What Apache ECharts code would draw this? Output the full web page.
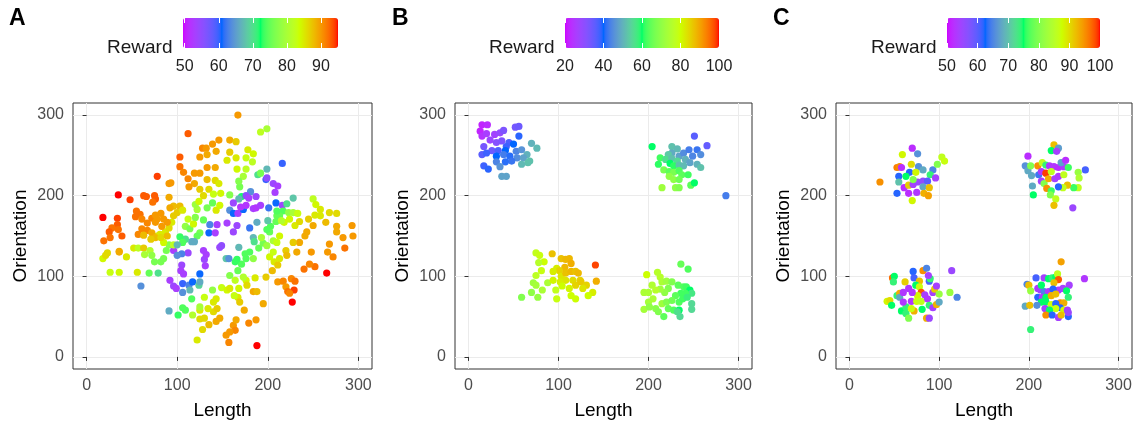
<!DOCTYPE html>
<html><head><meta charset="utf-8">
<script src="https://cdn.jsdelivr.net/npm/echarts@6/dist/echarts.min.js"></script>
<style>html,body{margin:0;padding:0;background:#fff}#c{width:1139px;height:425px}</style>
</head><body><div id="c"></div>
<script>
// ---------- DATA ----------
const panelLetters = ['A', 'B', 'C'];
const axisTicks = [0, 100, 200, 300];
const minorTicks = [50, 150, 250];
const xName = 'Length';
const yName = 'Orientation';
const legendTitle = 'Reward';
const legendTicksA = [50, 60, 70, 80, 90];
const legendTicksB = [20, 40, 60, 80, 100];
const legendTicksC = [50, 60, 70, 80, 90, 100];
const rewardRangeA = [49.5, 95];
const rewardRangeB = [20, 100];
const rewardRangeC = [50, 100];

// [Length, Orientation, Reward]
const pointsA = [
[167,300,90],[199,283,80],[192,279,82],[112,277,93],[158,269,89],[165,267,87],[146,269,90],[139,264,90],[128,259,91],[132,259,90],
[143,255,89],[158,254,87],[178,257,85],[184,252,84],[125,248,90],[133,251,89],[103,248,93],[165,247,85],[176,247,83],[155,244,85],
[183,242,82],[133,235,90],[142,235,89],[103,236,92],[107,229,91],[166,233,84],[176,233,82],[199,233,67],[216,240,60],[173,224,80],
[189,226,70],[192,228,76],[78,224,94],[119,228,90],[125,228,90],[112,221,91],[133,220,88],[142,219,86],[146,215,85],[91,215,90],
[119,215,89],[113,211,90],[125,208,87],[135,208,86],[169,211,76],[168,218,77],[148,203,84],[129,200,86],[140,202,83],[158,201,77],
[171,199,72],[181,205,64],[176,200,55],[187,199,54],[168,196,67],[198,220,60],[199,222,55],[206,215,54],[211,212,53],[208,204,53],
[209,191,61],[201,185,62],[216,188,54],[221,190,70],[228,197,68],[217,181,74],[223,179,78],[213,175,75],[210,175,75],[228,179,80],
[233,178,83],[224,171,84],[218,167,84],[230,163,85],[235,168,86],[250,196,82],[253,189,84],[258,183,85],[252,176,85],[258,175,85],
[268,179,86],[276,178,86],[245,171,87],[264,167,88],[276,162,89],[293,163,90],[294,150,90],[276,155,89],[250,163,89],[243,155,89],
[241,150,89],[235,142,89],[228,142,87],[232,130,89],[248,130,90],[268,140,90],[266,130,90],[272,124,91],[285,135,92],[283,148,90],
[265,104,95],[252,112,92],[240,109,92],[246,115,91],[220,132,87],[221,126,88],[213,122,85],[207,118,85],[211,114,87],[205,107,88],
[198,99,87],[211,93,90],[217,94,91],[226,97,91],[230,94,92],[220,87,90],[222,81,92],[229,83,94],[224,79,91],[227,68,95],
[195,66,89],[184,81,89],[179,42,91],[187,46,90],[188,14,95],[174,58,89],[162,39,90],[165,46,89],[164,33,91],[158,31,90],
[154,27,90],[157,18,91],[147,48,89],[143,44,89],[135,40,88],[128,34,86],[122,21,85],[125,47,86],[130,48,86],[140,56,86],
[144,60,87],[134,60,85],[125,58,85],[140,68,85],[143,72,85],[130,74,83],[139,83,78],[149,86,83],[155,83,84],[158,85,85],
[167,74,85],[169,68,87],[163,76,83],[168,85,84],[176,95,84],[177,89,86],[186,98,85],[188,81,88],[173,99,81],[164,95,82],
[158,101,77],[167,107,75],[171,115,74],[176,122,74],[180,130,74],[175,128,74],[184,122,78],[190,135,75],[195,141,76],[193,148,80],
[199,138,79],[202,124,84],[206,144,80],[206,130,83],[210,142,83],[213,150,84],[203,162,74],[202,155,75],[200,169,68],[188,167,66],
[180,160,62],[184,148,67],[185,143,70],[168,136,67],[166,121,73],[164,118,73],[154,122,68],[147,136,54],[149,138,55],[157,122,64],
[144,164,53],[155,166,53],[166,163,54],[162,155,54],[136,164,63],[135,154,61],[142,154,53],[158,182,64],[162,178,61],[167,178,53],
[173,183,61],[170,186,52],[176,188,52],[179,197,53],[184,184,53],[187,185,52],[192,188,53],[162,191,54],[125,103,61],[131,113,53],
[130,121,54],[132,127,53],[129,132,53],[112,129,54],[105,128,63],[105,114,54],[96,132,53],[104,107,53],[107,103,53],[92,95,53],
[96,88,54],[99,85,53],[106,91,60],[113,89,63],[117,93,61],[106,80,64],[114,83,67],[124,89,69],[125,93,66],[91,57,66],
[101,52,73],[106,61,74],[109,58,74],[116,72,74],[117,52,81],[125,62,80],[60,88,64],[79,104,70],[69,104,75],[36,105,84],
[56,105,85],[26,105,83],[18,122,84],[21,126,86],[23,129,86],[44,124,85],[36,130,89],[36,131,89],[52,135,85],[57,135,82],
[63,135,87],[64,127,80],[70,132,81],[72,126,78],[75,118,76],[82,118,76],[85,122,76],[88,132,76],[91,139,77],[96,139,82],
[85,142,84],[78,150,85],[81,152,85],[87,155,85],[91,160,86],[94,167,85],[96,175,87],[100,179,87],[103,187,88],[96,187,88],
[92,185,89],[91,198,89],[93,216,90],[106,182,85],[112,171,83],[109,162,78],[114,159,76],[118,165,84],[120,173,77],[122,183,80],
[120,189,79],[124,193,84],[125,154,76],[122,150,75],[119,143,66],[116,143,66],[109,146,70],[103,149,73],[106,142,74],[100,139,67],
[100,126,64],[129,170,75],[133,185,76],[139,191,75],[143,182,85],[147,188,84],[18,173,95],[34,172,94],[35,201,95],[48,195,94],
[63,200,93],[66,199,93],[75,200,93],[76,196,93],[73,192,92],[54,174,92],[59,177,92],[55,181,92],[61,171,91],[72,172,91],
[76,176,90],[82,178,90],[78,171,90],[85,171,90],[89,167,90],[83,162,90],[76,167,90],[67,166,91],[61,159,91],[67,157,91],
[57,152,91],[63,151,88],[72,154,89],[76,148,88],[71,146,87],[82,148,86],[89,150,88],[34,164,93],[28,160,92],[25,155,93],
[35,158,92],[39,150,93],[26,148,92],[19,144,92],[199,158,74],[209,168,75],[215,169,81],[210,181,74]
];

const pointsB = [
[15,288,22],[21,288,23],[13,280,22],[15,274,24],[20,277,26],[29,276,27],[35,278,29],[39,281,32],[52,285,33],[56,286,34],
[56,274,39],[24,269,28],[31,266,31],[37,268,32],[45,266,37],[50,264,40],[42,261,38],[17,261,33],[26,256,34],[33,256,37],
[41,256,40],[53,255,44],[59,257,46],[65,251,50],[70,265,50],[76,259,51],[15,251,36],[20,253,38],[31,249,40],[39,251,43],
[46,249,41],[54,247,45],[61,247,48],[68,243,52],[66,241,52],[59,239,51],[48,243,42],[41,242,41],[31,242,44],[35,236,46],
[17,237,38],[22,233,39],[37,224,48],[42,224,48],
[204,261,60],[213,247,62],[211,239,61],[217,232,67],[215,210,72],[226,261,52],[232,258,51],[226,253,49],[222,251,53],[219,245,56],
[226,246,52],[234,249,48],[239,253,45],[245,257,43],[251,274,36],[265,262,35],[254,257,42],[258,251,45],[249,249,44],[241,245,50],
[232,243,55],[224,240,60],[228,237,61],[234,238,52],[239,237,51],[246,241,48],[254,239,50],[258,235,52],[223,230,64],[228,229,67],
[234,231,63],[237,226,64],[223,224,70],[228,220,70],[234,220,66],[244,226,62],[230,210,70],[234,210,68],[247,213,64],[251,216,60],
[286,200,43],
[75,129,78],[79,126,79],[84,118,80],[78,117,76],[81,107,79],[75,101,77],[72,92,72],[75,89,73],[70,80,70],[77,74,71],
[59,74,68],[82,83,74],[88,92,74],[93,128,87],[98,110,82],[103,122,87],[108,121,88],[112,122,88],[114,116,89],[107,111,88],
[101,107,85],[94,106,82],[103,100,83],[108,104,87],[114,106,88],[119,106,87],[122,104,88],[124,95,85],[116,95,84],[108,95,83],
[102,93,82],[94,95,81],[97,83,78],[104,88,80],[112,85,81],[119,89,85],[125,93,86],[131,89,85],[127,85,83],[138,80,82],
[133,76,80],[114,76,80],[119,72,80],[98,72,79],[141,114,98],[142,94,89],
[198,102,80],[210,105,76],[213,99,76],[236,115,65],[244,109,63],[195,80,74],[200,80,74],[204,89,75],[215,93,74],[220,94,72],
[226,93,68],[222,85,68],[233,89,64],[239,87,63],[242,87,62],[246,83,60],[248,79,57],[241,79,62],[236,79,62],[230,76,64],
[218,80,70],[213,84,72],[208,83,76],[205,72,74],[200,68,73],[195,59,73],[201,62,70],[208,60,69],[215,66,72],[220,68,68],
[226,70,66],[234,68,63],[238,72,62],[243,74,58],[222,60,65],[228,58,63],[234,58,60],[232,56,56],[248,66,55],[248,59,55],
[217,50,64],[235,50,55],[211,56,68]
];

const pointsC = [
[34,217,95],[53,235,96],[56,236,95],[59,251,88],[70,259,52],[76,252,66],[58,235,52],[69,239,90],[67,229,62],[77,236,66],
[74,229,88],[82,232,68],[93,232,65],[90,226,74],[98,239,80],[103,248,86],[106,243,87],[55,224,62],[63,224,75],[55,217,70],
[61,210,52],[66,213,91],[71,214,54],[76,217,55],[82,218,56],[87,218,60],[96,222,54],[82,211,68],[89,210,92],[75,204,53],
[66,203,52],[53,203,62],[83,203,93],[88,200,94],[70,194,88],[71,220,80],
[199,249,52],[228,263,92],[233,259,67],[225,256,75],[231,255,54],[196,237,66],[199,231,68],[202,237,80],[210,237,95],[215,241,86],
[219,238,74],[223,237,53],[228,236,53],[233,235,52],[239,236,53],[236,241,67],[241,244,52],[244,235,76],[263,232,61],[255,229,82],
[256,222,84],[255,210,86],[250,210,76],[243,213,92],[238,210,86],[203,225,68],[211,226,64],[214,230,53],[219,228,99],[225,230,86],
[214,218,54],[217,215,80],[222,221,93],[229,221,54],[233,224,53],[239,226,86],[204,212,68],[220,209,95],[225,206,76],[233,211,62],
[224,201,80],[230,196,86],[228,188,92],[205,201,75],[249,185,55],
[42,69,88],[45,70,90],[48,98,97],[50,100,75],[49,93,74],[47,64,75],[53,76,74],[56,79,93],[56,74,68],[62,93,91],
[66,85,53],[60,80,53],[58,57,75],[63,54,74],[66,48,80],[63,62,74],[60,68,53],[69,69,53],[72,57,93],[71,106,62],
[72,98,61],[78,94,92],[74,89,75],[78,87,87],[82,107,95],[86,110,65],[89,94,61],[90,97,74],[88,101,54],[80,80,98],
[84,77,54],[76,76,88],[70,80,53],[75,69,87],[80,69,86],[87,72,53],[93,80,54],[95,84,91],[97,88,54],[89,64,74],
[93,61,54],[97,65,93],[100,68,68],[100,78,82],[86,48,93],[89,48,55],[112,80,82],[114,107,55],[120,74,65],[81,59,75],
[69,60,87],
[198,90,65],[200,89,92],[208,98,61],[202,82,82],[196,63,68],[201,64,92],[202,34,74],[217,98,54],[222,97,75],[226,98,74],
[230,99,75],[232,103,86],[236,118,94],[233,96,98],[228,92,92],[245,89,54],[262,97,53],[210,85,53],[213,83,54],[217,81,65],
[222,81,53],[233,83,53],[238,85,54],[242,82,75],[227,84,62],[210,74,62],[215,74,53],[219,74,75],[225,76,93],[230,78,92],
[235,67,95],[239,67,93],[244,74,74],[214,68,75],[209,64,66],[219,68,75],[225,65,87],[230,66,62],[235,61,62],[230,60,87],
[239,58,88],[243,58,54],[218,60,54],[223,58,75],[219,52,95],[226,52,62],[233,49,54],[236,52,92],[244,50,62],[244,55,55],
[214,89,75]
];

// ---------- STYLE ----------
const FONT = 'Liberation Sans, Arial, sans-serif';
const rainbowStops = ['#CC00FF', '#0066FF', '#00FF66', '#CCFF00', '#FF0000'];

// Lab interpolation (like ggplot2 gradientn)
function hex2rgb(h){return [parseInt(h.slice(1,3),16),parseInt(h.slice(3,5),16),parseInt(h.slice(5,7),16)];}
function s2l(c){c/=255;return c<=0.04045?c/12.92:Math.pow((c+0.055)/1.055,2.4);}
function l2s(c){let v=c<=0.0031308?12.92*c:1.055*Math.pow(c,1/2.4)-0.055;return Math.round(Math.max(0,Math.min(1,v))*255);}
const Xn=0.95047,Yn=1,Zn=1.08883;
function fLab(t){return t>0.008856?Math.cbrt(t):7.787*t+16/116;}
function fInv(t){const t3=t*t*t;return t3>0.008856?t3:(t-16/116)/7.787;}
function rgb2lab(rgb){const r=s2l(rgb[0]),g=s2l(rgb[1]),b=s2l(rgb[2]);
 const X=(0.4124564*r+0.3575761*g+0.1804375*b)/Xn,Y=(0.2126729*r+0.7151522*g+0.0721750*b)/Yn,Z=(0.0193339*r+0.1191920*g+0.9503041*b)/Zn;
 const fx=fLab(X),fy=fLab(Y),fz=fLab(Z);return [116*fy-16,500*(fx-fy),200*(fy-fz)];}
function lab2hex(lab){const fy=(lab[0]+16)/116,fx=fy+lab[1]/500,fz=fy-lab[2]/200;
 const X=fInv(fx)*Xn,Y=fInv(fy)*Yn,Z=fInv(fz)*Zn;
 const r=3.2404542*X-1.5371385*Y-0.4985314*Z,g=-0.9692660*X+1.8760108*Y+0.0415560*Z,b=0.0556434*X-0.2040259*Y+1.0572252*Z;
 return '#'+[l2s(r),l2s(g),l2s(b)].map(v=>v.toString(16).padStart(2,'0')).join('');}
const labs = rainbowStops.map(h=>rgb2lab(hex2rgb(h)));
const NCOL = 101;
const gradColors = [];
for(let i=0;i<NCOL;i++){const t=i/(NCOL-1)*(labs.length-1);const k=Math.min(Math.floor(t),labs.length-2);const f=t-k;
 gradColors.push(lab2hex([0,1,2].map(j=>labs[k][j]*(1-f)+labs[k+1][j]*f)));}

const panels = [
 {pts: pointsA, range: rewardRangeA, lticks: legendTicksA, gl: 73, gw: 299, bl: 183, bw: 155, letterX: 9},
 {pts: pointsB, range: rewardRangeB, lticks: legendTicksB, gl: 455, gw: 297, bl: 565, bw: 154, letterX: 392},
 {pts: pointsC, range: rewardRangeC, lticks: legendTicksC, gl: 836, gw: 296, bl: 947, bw: 153, letterX: 773}
];
const GT = 103, GH = 267, BT = 18, BH = 30;

const grid = [], xAxis = [], yAxis = [], series = [], visualMap = [], graphic = [];
panels.forEach((p, i) => {
  const gi = grid.length;
  grid.push({left: p.gl, top: GT, width: p.gw, height: GH, show: true, borderColor: '#333333', borderWidth: 1, backgroundColor: '#fff'});
  xAxis.push({gridIndex: gi, type: 'value', min: -15, max: 315, position: 'bottom',
    name: xName, nameLocation: 'middle', nameGap: 32,
    nameTextStyle: {fontFamily: FONT, fontSize: 19, color: '#000'},
    axisLine: {show: false},
    axisTick: {show: true, length: 4, customValues: axisTicks, lineStyle: {color: '#333333', width: 1}},
    axisLabel: {customValues: axisTicks, margin: 9, fontFamily: FONT, fontSize: 16, color: '#4D4D4D'},
    splitLine: {show: true, lineStyle: {color: '#EBEBEB', width: 1}}});
  xAxis.push({gridIndex: gi, type: 'value', min: -15, max: 315, position: 'bottom', show: true,
    axisLine: {show: false}, axisLabel: {show: false},
    axisTick: {show: false, customValues: minorTicks},
    splitLine: {show: true, lineStyle: {color: '#F2F2F2', width: 1}}, z: -1});
  yAxis.push({gridIndex: gi, type: 'value', min: -15, max: 315,
    name: yName, nameLocation: 'middle', nameGap: 43,
    nameTextStyle: {fontFamily: FONT, fontSize: 19, color: '#000'},
    axisLine: {show: false},
    axisTick: {show: true, length: 4, customValues: axisTicks, lineStyle: {color: '#333333', width: 1}},
    axisLabel: {customValues: axisTicks, margin: 9, fontFamily: FONT, fontSize: 16, color: '#4D4D4D'},
    splitLine: {show: true, lineStyle: {color: '#EBEBEB', width: 1}}});
  yAxis.push({gridIndex: gi, type: 'value', min: -15, max: 315, show: true,
    axisLine: {show: false}, axisLabel: {show: false},
    axisTick: {show: false, customValues: minorTicks},
    splitLine: {show: true, lineStyle: {color: '#F2F2F2', width: 1}}, z: -1});
  const si = series.length;
  series.push({type: 'scatter', xAxisIndex: xAxis.length - 2, yAxisIndex: yAxis.length - 2,
    data: p.pts, symbol: 'circle', symbolSize: 7.2, itemStyle: {opacity: 1}, emphasis: {disabled: true}, animation: false});
  visualMap.push({type: 'continuous', seriesIndex: si, dimension: 2, min: p.range[0], max: p.range[1],
    inRange: {color: gradColors}, orient: 'horizontal', left: p.bl, top: BT, itemWidth: BH, itemHeight: p.bw,
    calculable: false, hoverLink: false, padding: 0, text: null, show: true, realtime: false});
  const ci = grid.length;
  grid.push({left: p.bl, top: BT, width: p.bw, height: BH, show: false});
  xAxis.push({gridIndex: ci, type: 'value', min: p.range[0], max: p.range[1], position: 'bottom', z: 10,
    axisLine: {show: false}, splitLine: {show: false},
    axisTick: {show: true, inside: true, length: 5, customValues: p.lticks, lineStyle: {color: '#ffffff', width: 1}},
    axisLabel: {customValues: p.lticks, margin: 11, fontFamily: FONT, fontSize: 16, color: '#222222'}});
  xAxis.push({gridIndex: ci, type: 'value', min: p.range[0], max: p.range[1], position: 'top', z: 10,
    axisLine: {show: false}, splitLine: {show: false}, axisLabel: {show: false},
    axisTick: {show: true, inside: true, length: 5, customValues: p.lticks, lineStyle: {color: '#ffffff', width: 1}}});
  yAxis.push({gridIndex: ci, type: 'value', min: 0, max: 1, show: false});
  graphic.push({type: 'text', left: p.bl - 10 - 66, top: 38, style: {text: legendTitle, font: '19px ' + FONT, fill: '#1a1a1a'}});
  graphic.push({type: 'text', left: p.letterX, top: 7, style: {text: panelLetters[i], font: 'bold 23px ' + FONT, fill: '#000'}});
});

const chart = echarts.init(document.getElementById('c'), null, {renderer: 'canvas'});
chart.setOption({animation: false, backgroundColor: '#fff', grid, xAxis, yAxis, series, visualMap, graphic});
</script>
</body></html>
